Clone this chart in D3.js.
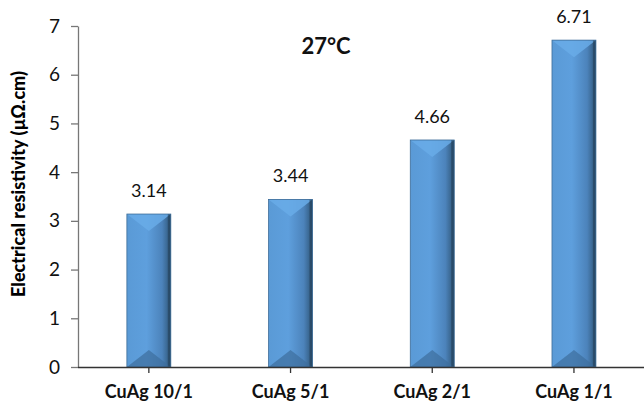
<!DOCTYPE html>
<html>
<head>
<meta charset="utf-8">
<script src="https://cdn.jsdelivr.net/npm/d3@7"></script>
<style>
  html, body { margin: 0; padding: 0; background: #fff; }
  svg { display: block; font-family: Lato, "Open Sans", "Liberation Sans", sans-serif; }
</style>
</head>
<body>
<svg id="chart" width="644" height="404"></svg>
<script>
// Resistivity of CuAg alloys at room temperature
const categories = ["CuAg 10/1", "CuAg 5/1", "CuAg 2/1", "CuAg 1/1"];
const resistivity = [3.14, 3.44, 4.66, 6.71];
const yTicks = [0, 1, 2, 3, 4, 5, 6, 7];
const chartTitle = "27°C";
const yTitle = "Electrical resistivity (µΩ.cm)";

const svg = d3.select("#chart");
const margin = { left: 78, right: 0, top: 26, bottom: 37 };
const W = 644, H = 404;
const x0 = margin.left, y0 = H - margin.bottom;

const x = d3.scaleBand()
  .domain(categories)
  .range([x0, x0 + 4 * 141.7])
  .paddingInner(0.69)
  .paddingOuter(0.345);
const y = d3.scaleLinear().domain([0, 7]).range([y0, margin.top]);

// bar shading
const defs = svg.append("defs");
const grad = defs.append("linearGradient").attr("id", "barGrad")
  .attr("x1", 0).attr("x2", 1).attr("y1", 0).attr("y2", 0);
grad.append("stop").attr("offset", "0%").attr("stop-color", "#5a9ad6");
grad.append("stop").attr("offset", "45%").attr("stop-color", "#5e9fdd");
grad.append("stop").attr("offset", "80%").attr("stop-color", "#4c83bb");
grad.append("stop").attr("offset", "100%").attr("stop-color", "#2f5677");

// y axis
const yAxis = d3.axisLeft(y).tickValues(yTicks).tickSize(7).tickSizeOuter(0).tickFormat(d3.format("d"));
const gy = svg.append("g").attr("transform", `translate(${x0},0)`).call(yAxis);
gy.select(".domain").attr("stroke", "#777").attr("stroke-width", 1.3);
gy.selectAll(".tick line").attr("stroke", "#777").attr("stroke-width", 1.3);
gy.selectAll(".tick text").attr("font-size", 19).attr("fill", "#111").attr("x", -18)
  .attr("font-family", "Lato, 'Open Sans', sans-serif");

// bars with bevelled caps
const bevel = 17;
const bars = svg.append("g").selectAll("g.bar").data(categories).join("g").attr("class", "bar");
bars.each(function (c, i) {
  const g = d3.select(this);
  const bx = x(c), bw = x.bandwidth();
  const top = y(resistivity[i]), bot = y(0);
  const h = Math.min(bevel, (bot - top) / 2);
  g.append("rect").attr("x", bx).attr("y", top).attr("width", bw).attr("height", bot - top)
    .attr("fill", "url(#barGrad)");
  // top bevel
  g.append("polygon")
    .attr("points", [[bx, top], [bx + bw, top], [bx + bw / 2, top + h]].map(p => p.join(",")).join(" "))
    .attr("fill", "#68abe8").attr("opacity", 0.85);
  // bottom bevel
  g.append("polygon")
    .attr("points", [[bx, bot], [bx + bw, bot], [bx + bw / 2, bot - h]].map(p => p.join(",")).join(" "))
    .attr("fill", "#3d6e9c").attr("opacity", 0.7);
  // right edge shadow
  g.append("rect").attr("x", bx + bw - 3).attr("y", top).attr("width", 3).attr("height", bot - top)
    .attr("fill", "#233f58").attr("opacity", 0.6);
  g.append("rect").attr("x", bx).attr("y", top).attr("width", bw).attr("height", bot - top)
    .attr("fill", "none").attr("stroke", "#3c6c98").attr("stroke-width", 0.8);
});

// x axis
const xAxis = d3.axisBottom(x).tickSize(6).tickSizeOuter(0);
const gx = svg.append("g").attr("transform", `translate(0,${y0})`).call(xAxis);
gx.select(".domain").attr("stroke", "#333").attr("stroke-width", 1.3)
  .attr("d", `M${x0},0.5H${W}`);
gx.selectAll(".tick line").attr("stroke", "#333").attr("stroke-width", 1.3);
gx.selectAll(".tick text").attr("font-size", 18).attr("font-weight", "bold").attr("fill", "#111")
  .attr("y", 18).attr("font-family", "Lato, 'Open Sans', sans-serif");

// value labels
svg.append("g").selectAll("text").data(categories).join("text")
  .attr("x", c => x(c) + x.bandwidth() / 2)
  .attr("y", (c, i) => y(resistivity[i]) - 17)
  .attr("text-anchor", "middle").attr("font-size", 18).attr("fill", "#111")
  .text((c, i) => resistivity[i].toFixed(2));

// title
svg.append("text").attr("x", 326).attr("y", 54).attr("text-anchor", "middle")
  .attr("font-size", 22).attr("font-weight", "bold").attr("fill", "#111")
  .attr("font-family", "Lato, 'Open Sans', sans-serif")
  .text(chartTitle);

// y axis title
svg.append("text").attr("transform", `translate(25,184) rotate(-90)`)
  .attr("text-anchor", "middle").attr("font-size", 18).attr("font-weight", 900).attr("fill", "#000")
  .attr("font-family", "Lato, 'Open Sans', sans-serif")
  .text(yTitle);
</script>
</body>
</html>
